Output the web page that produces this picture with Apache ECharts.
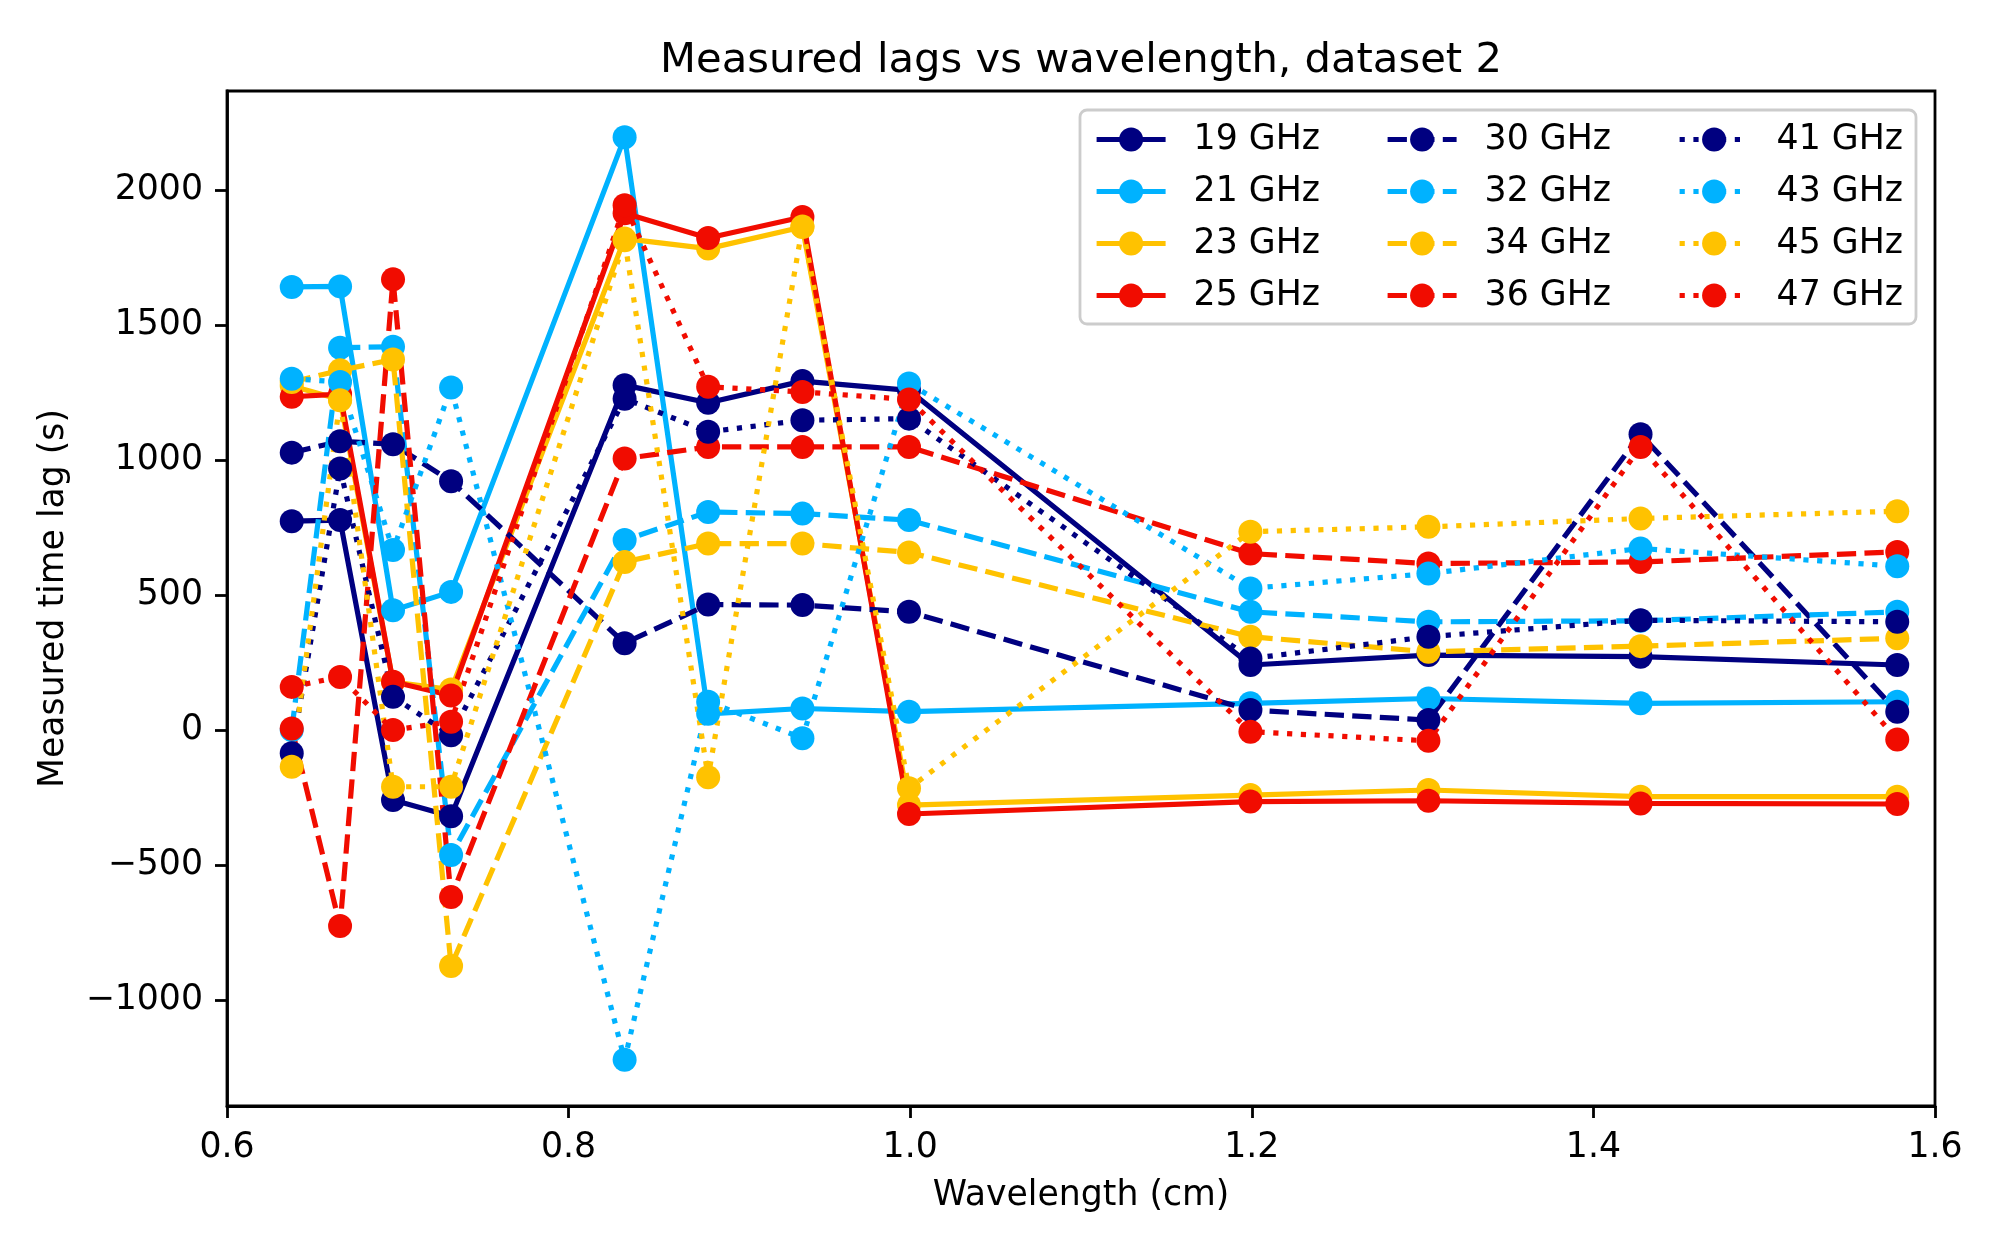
<!DOCTYPE html>
<html><head><meta charset="utf-8">
<script src="https://cdn.jsdelivr.net/npm/echarts@6/dist/echarts.min.js"></script>
<style>html,body{margin:0;padding:0;background:#fff}#chart{width:2000px;height:1250px}</style>
</head><body><div id="chart"></div>
<script>
// Wavelength (cm) of each observing frequency, 47 GHz ... 19 GHz
const wavelengths = [0.6379, 0.6662, 0.6972, 0.7312, 0.8328, 0.8817, 0.9369, 0.9993, 1.1992, 1.3034, 1.4276, 1.5779];

// Measured time lags (s) for each reference band
const lag19 = [774, 778, -259, -319, 1278, 1213, 1293, 1259, 241, 278, 272, 241];
const lag21 = [1642, 1644, 444, 512, 2197, 60, 80, 68, 99, 117, 99, 105];
const lag23 = [1275, 1225, 178, 150, 1821, 1784, 1864, -278, -241, -222, -247, -247];
const lag25 = [1235, 1245, 179, 128, 1915, 1823, 1901, -311, -265, -262, -272, -274];
const lag30 = [1028, 1070, 1059, 922, 322, 465, 463, 438, 74, 37, 1096, 68];
const lag32 = [0, 1417, 1420, -463, 704, 808, 802, 778, 438, 401, 405, 438];
const lag34 = [1290, 1333, 1373, -874, 623, 691, 691, 658, 346, 290, 311, 340];
const lag36 = [6, -726, 1670, -619, 1006, 1049, 1049, 1049, 654, 617, 623, 660];
const lag41 = [-86, 969, 123, -19, 1228, 1105, 1148, 1154, 265, 346, 407, 401];
const lag43 = [1302, 1290, 667, 1269, -1222, 105, -30, 1284, 525, 580, 673, 607];
const lag45 = [-136, 1222, -210, -210, 1815, -175, 1866, -216, 735, 753, 784, 811];
const lag47 = [160, 197, 0, 31, 1945, 1272, 1253, 1225, -6, -40, 1049, -35];

const seriesNames = ['19 GHz','21 GHz','23 GHz','25 GHz','30 GHz','32 GHz','34 GHz','36 GHz','41 GHz','43 GHz','45 GHz','47 GHz'];
const seriesValues = [lag19, lag21, lag23, lag25, lag30, lag32, lag34, lag36, lag41, lag43, lag45, lag47];

const xTicks = [0.6, 0.8, 1.0, 1.2, 1.4, 1.6];
const yTicks = [-1000, -500, 0, 500, 1000, 1500, 2000];

const palette = ['#000080', '#00b2ff', '#ffc200', '#f10c00'];
const LW = 5.2;
const dashStyles = ['solid', [19.3, 8.3], [5.2, 8.6]];
const FONT = 'DejaVu Sans';

const series = seriesNames.map((name, i) => ({
  name: name,
  type: 'line',
  data: wavelengths.map((w, j) => [w, seriesValues[i][j]]),
  symbol: 'circle',
  symbolSize: 24,
  showAllSymbol: true,
  color: palette[i % 4],
  itemStyle: { color: palette[i % 4], borderWidth: 0 },
  lineStyle: { color: palette[i % 4], width: LW, type: dashStyles[Math.floor(i / 4)], cap: 'butt' },
  emphasis: { disabled: true },
  animation: false
}));

function legendCol(names, left) {
  return {
    data: names,
    orient: 'vertical',
    left: left,
    top: 122,
    itemWidth: 69,
    itemHeight: 30,
    itemGap: 17,
    padding: 0,
    selectedMode: false,
    lineStyle: { width: LW },
    textStyle: { fontFamily: FONT, fontSize: 34.7, color: '#000', lineHeight: 35, padding: [0, 0, 0, 23] }
  };
}

const chart = echarts.init(document.getElementById('chart'), null, { renderer: 'canvas' });
chart.setOption({
  animation: false,
  backgroundColor: '#fff',
  title: {
    text: 'Measured lags vs wavelength, dataset 2',
    left: 1076,
    textAlign: 'center',
    top: 35,
    textStyle: { fontFamily: FONT, fontSize: 41.7, fontWeight: 'normal', color: '#000' }
  },
  grid: { left: 227, right: 65, top: 91, bottom: 144, show: true, borderColor: '#000', borderWidth: 2.8, backgroundColor: 'transparent' },
  xAxis: {
    type: 'value',
    min: 0.6, max: 1.6,
    name: 'Wavelength (cm)',
    nameLocation: 'middle',
    nameGap: 72,
    nameTextStyle: { fontFamily: FONT, fontSize: 34.7, color: '#000' },
    axisLine: { show: true, onZero: false, lineStyle: { color: '#000', width: 2.8 } },
    axisTick: { show: true, length: 12, lineStyle: { color: '#000', width: 2.8 }, customValues: xTicks },
    axisLabel: { fontFamily: FONT, fontSize: 34.7, color: '#000', margin: 24, customValues: xTicks, formatter: v => v.toFixed(1) },
    splitLine: { show: false }
  },
  yAxis: {
    type: 'value',
    min: -1393, max: 2368,
    name: 'Measured time lag (s)',
    nameLocation: 'middle',
    nameGap: 156,
    nameRotate: 90,
    nameTextStyle: { fontFamily: FONT, fontSize: 34.7, color: '#000' },
    axisLine: { show: true, onZero: false, lineStyle: { color: '#000', width: 2.8 } },
    axisTick: { show: true, length: 12, lineStyle: { color: '#000', width: 2.8 }, customValues: yTicks },
    axisLabel: { fontFamily: FONT, fontSize: 34.7, color: '#000', margin: 24, customValues: yTicks, formatter: v => v < 0 ? '\u2212' + Math.abs(v) : String(v) },
    splitLine: { show: false }
  },
  graphic: [{
    type: 'rect',
    z: 3,
    shape: { x: 1080, y: 110, width: 836, height: 214, r: 7 },
    style: { fill: 'rgba(255,255,255,0.8)', stroke: '#cccccc', lineWidth: 2.8 }
  }],
  legend: [
    legendCol(seriesNames.slice(0, 4), 1094),
    legendCol(seriesNames.slice(4, 8), 1385),
    legendCol(seriesNames.slice(8, 12), 1677)
  ],
  series: series
});
</script>
</body></html>
